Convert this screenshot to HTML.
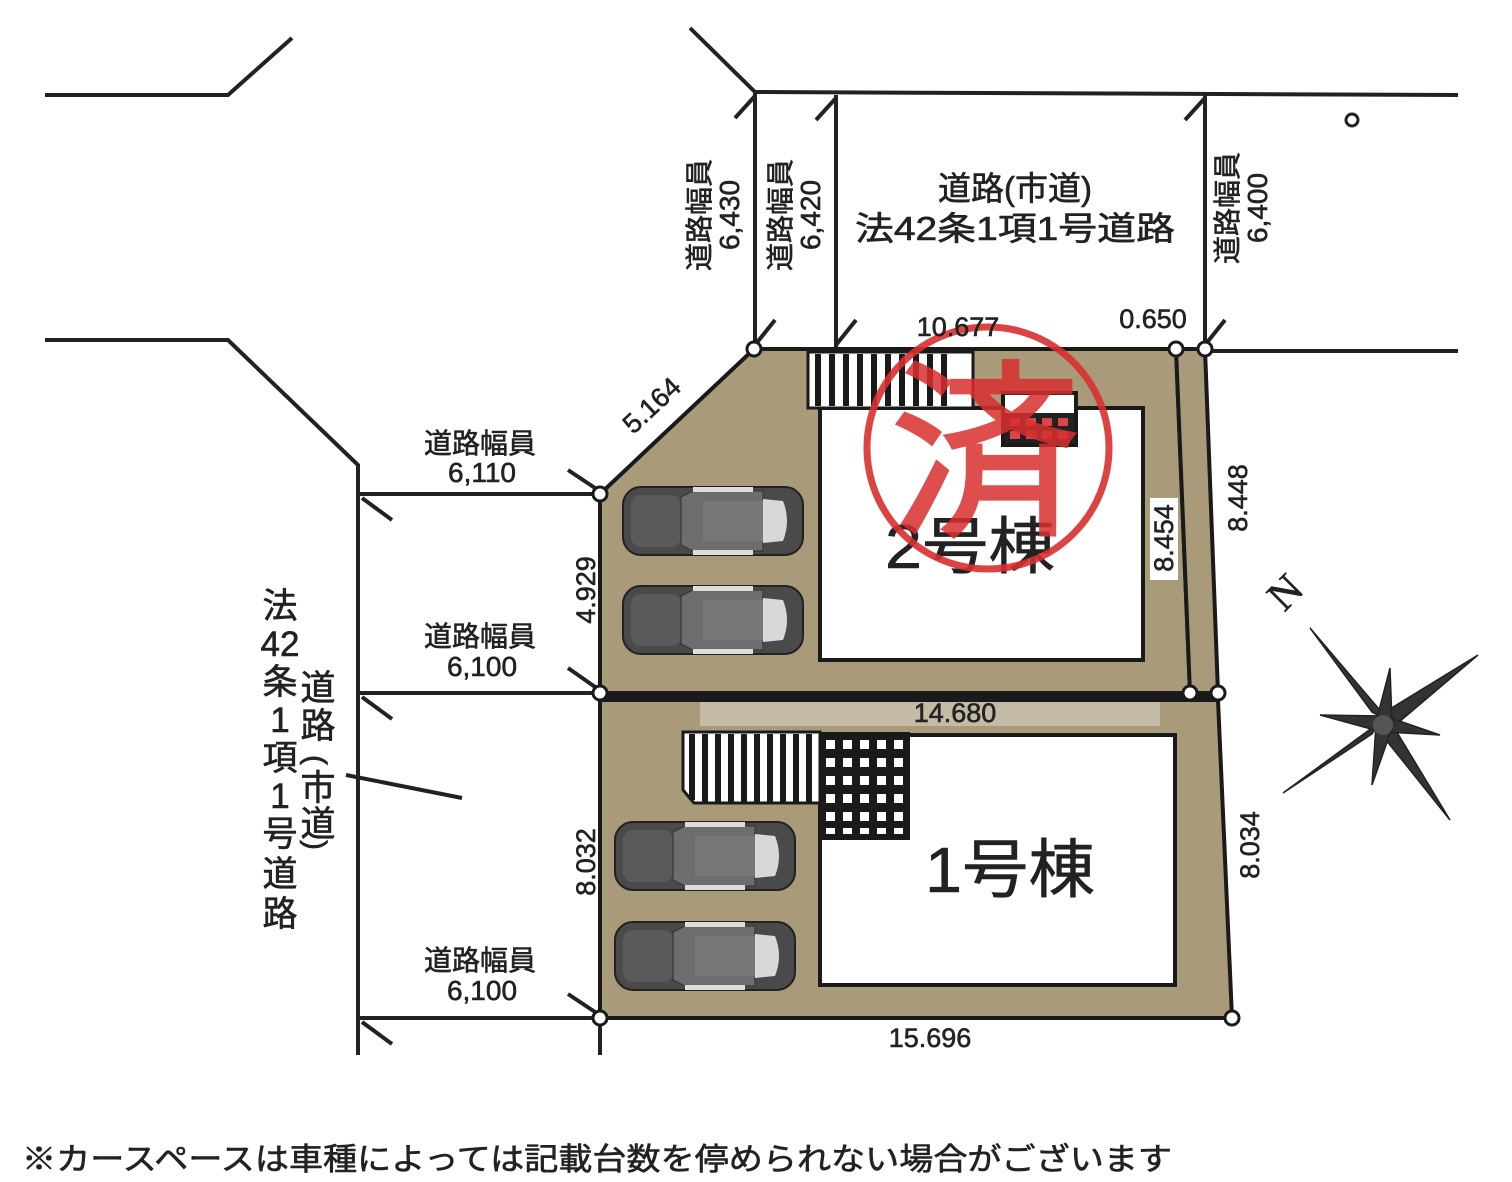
<!DOCTYPE html>
<html><head><meta charset="utf-8"><style>
html,body{margin:0;padding:0;background:#fff;}
svg{display:block;}
text{font-family:"Liberation Sans","Noto Sans CJK JP",sans-serif;fill:#222;stroke:#222;stroke-width:0.6;}
</style></head><body>
<svg width="1512" height="1182" viewBox="0 0 1512 1182" xmlns="http://www.w3.org/2000/svg">
<defs>
<g id="car">
<rect x="0" y="0" width="180" height="68" rx="18" fill="#4a4a4a" stroke="#222" stroke-width="2"/>
<rect x="8" y="8" width="50" height="52" rx="10" fill="#5a5a5a"/>
<path d="M58 10 L70 4 L140 4 L140 64 L70 64 L58 58 Z" fill="#6d6d6d" stroke="#333"/>
<rect x="80" y="14" width="60" height="40" fill="#777"/>
<path d="M140 12 L160 14 Q168 34 160 54 L140 56 Z" fill="#d8d8d8"/>
<rect x="70" y="0" width="60" height="5" fill="#ddd"/>
<rect x="70" y="63" width="60" height="5" fill="#ddd"/>
</g>
</defs>

<g stroke="#222" stroke-width="4" fill="none">
<polyline points="45,95 228,95 292,38"/>
<polyline points="690,28 755,92 1458,95"/>
<line x1="755" y1="92" x2="755" y2="349"/>
<line x1="836" y1="95" x2="836" y2="349"/>
<line x1="1205" y1="95" x2="1205" y2="349"/>
<line x1="1205" y1="351" x2="1458" y2="351"/>
<polyline points="45,340 228,340 358,465 358,1055"/>
<line x1="360" y1="494" x2="600" y2="494"/>
<line x1="360" y1="693" x2="600" y2="693"/>
<line x1="360" y1="1018" x2="600" y2="1018"/>
<line x1="600" y1="1018" x2="600" y2="1055"/>
<line x1="755" y1="96" x2="735" y2="118"/>
<line x1="755" y1="345" x2="775" y2="320"/>
<line x1="836" y1="98" x2="816" y2="120"/>
<line x1="836" y1="345" x2="856" y2="320"/>
<line x1="1205" y1="98" x2="1185" y2="120"/>
<line x1="1205" y1="345" x2="1225" y2="320"/>
<line x1="362" y1="498" x2="392" y2="520"/>
<line x1="362" y1="697" x2="392" y2="719"/>
<line x1="362" y1="1022" x2="392" y2="1044"/>
<line x1="598" y1="490" x2="568" y2="470"/>
<line x1="598" y1="689" x2="568" y2="668"/>
<line x1="598" y1="1014" x2="568" y2="994"/>
<line x1="346" y1="775" x2="462" y2="798"/>
</g>
<circle cx="1352" cy="120" r="6" fill="none" stroke="#222" stroke-width="3"/>

<g stroke="#1a1a1a" stroke-width="4" fill="#a99a7a">
<polygon points="754,349 1176,349 1190,693 600,693 600,494"/>
<polygon points="1176,349 1205,349 1218,693 1190,693"/>
<polygon points="600,700 1218,700 1232,1018 600,1018"/>
</g>
<line x1="600" y1="697" x2="1218" y2="697" stroke="#1a1a1a" stroke-width="5"/>
<rect x="700" y="702" width="460" height="24" fill="#c4bba6"/>

<rect x="820" y="408" width="323" height="252" fill="#fff" stroke="#1a1a1a" stroke-width="4"/>
<rect x="808" y="352" width="165" height="56" fill="#fff" stroke="#1a1a1a" stroke-width="3"/>
<g stroke="#1a1a1a" stroke-width="6">
<line x1="818" y1="354" x2="818" y2="406"/><line x1="832" y1="354" x2="832" y2="406"/><line x1="846" y1="354" x2="846" y2="406"/><line x1="860" y1="354" x2="860" y2="406"/><line x1="874" y1="354" x2="874" y2="406"/><line x1="888" y1="354" x2="888" y2="406"/><line x1="902" y1="354" x2="902" y2="406"/><line x1="916" y1="354" x2="916" y2="406"/><line x1="930" y1="354" x2="930" y2="406"/><line x1="944" y1="354" x2="944" y2="406"/>
</g>
<rect x="1003" y="393" width="73" height="52" fill="#fff" stroke="#1a1a1a" stroke-width="4"/>
<rect x="1005" y="413" width="69" height="30" fill="#222"/>
<g fill="#d44">
<rect x="1010" y="418" width="10" height="8"/><rect x="1026" y="418" width="10" height="8"/><rect x="1042" y="418" width="10" height="8"/><rect x="1058" y="418" width="10" height="8"/>
<rect x="1010" y="431" width="10" height="8"/><rect x="1026" y="431" width="10" height="8"/><rect x="1042" y="431" width="10" height="8"/><rect x="1058" y="431" width="10" height="8"/>
</g>

<rect x="820" y="735" width="355" height="250" fill="#fff" stroke="#1a1a1a" stroke-width="4"/>
<path d="M683 732 L820 732 L820 803 L694 803 L683 790 Z" fill="#fff" stroke="#1a1a1a" stroke-width="3"/>
<g stroke="#1a1a1a" stroke-width="6">
<line x1="692" y1="734" x2="692" y2="800"/><line x1="705" y1="734" x2="705" y2="802"/><line x1="718" y1="734" x2="718" y2="802"/><line x1="731" y1="734" x2="731" y2="802"/><line x1="744" y1="734" x2="744" y2="802"/><line x1="757" y1="734" x2="757" y2="802"/><line x1="770" y1="734" x2="770" y2="802"/><line x1="783" y1="734" x2="783" y2="802"/><line x1="796" y1="734" x2="796" y2="802"/><line x1="809" y1="734" x2="809" y2="802"/>
</g>
<rect x="820" y="732" width="90" height="108" fill="#1a1a1a"/>
<g fill="#fff">
<rect x="826" y="740" width="9" height="9"/><rect x="843" y="740" width="9" height="9"/><rect x="860" y="740" width="9" height="9"/><rect x="877" y="740" width="9" height="9"/><rect x="894" y="740" width="9" height="9"/>
<rect x="826" y="758" width="9" height="9"/><rect x="843" y="758" width="9" height="9"/><rect x="860" y="758" width="9" height="9"/><rect x="877" y="758" width="9" height="9"/><rect x="894" y="758" width="9" height="9"/>
<rect x="826" y="776" width="9" height="9"/><rect x="843" y="776" width="9" height="9"/><rect x="860" y="776" width="9" height="9"/><rect x="877" y="776" width="9" height="9"/><rect x="894" y="776" width="9" height="9"/>
<rect x="826" y="794" width="9" height="9"/><rect x="843" y="794" width="9" height="9"/><rect x="860" y="794" width="9" height="9"/><rect x="877" y="794" width="9" height="9"/><rect x="894" y="794" width="9" height="9"/>
<rect x="826" y="812" width="9" height="9"/><rect x="843" y="812" width="9" height="9"/><rect x="860" y="812" width="9" height="9"/><rect x="877" y="812" width="9" height="9"/><rect x="894" y="812" width="9" height="9"/>
<rect x="826" y="828" width="9" height="6"/><rect x="843" y="828" width="9" height="6"/><rect x="860" y="828" width="9" height="6"/><rect x="877" y="828" width="9" height="6"/><rect x="894" y="828" width="9" height="6"/>
</g>

<use href="#car" x="623" y="487"/>
<use href="#car" x="623" y="586"/>
<use href="#car" x="615" y="822"/>
<use href="#car" x="615" y="922"/>

<text x="970" y="568" font-size="62" text-anchor="middle" textLength="170" lengthAdjust="spacingAndGlyphs">2号棟</text>
<text x="1010" y="892" font-size="64" text-anchor="middle" textLength="170" lengthAdjust="spacingAndGlyphs">1号棟</text>

<circle cx="988" cy="448" r="121" fill="none" stroke="#d8302f" stroke-width="7" opacity="0.9"/>
<text x="985" y="520" font-size="190" text-anchor="middle" style="fill:#d8302f;stroke:#d8302f;stroke-width:3;font-family:'Noto Sans CJK JP',sans-serif" opacity="0.85">済</text>

<g fill="#fff" stroke="#1a1a1a" stroke-width="3">
<circle cx="754" cy="349" r="7"/><circle cx="1176" cy="349" r="7"/><circle cx="1205" cy="349" r="7"/>
<circle cx="600" cy="494" r="7"/><circle cx="600" cy="693" r="7"/><circle cx="1190" cy="693" r="7"/><circle cx="1218" cy="693" r="7"/>
<circle cx="600" cy="1018" r="7"/><circle cx="1232" cy="1018" r="7"/>
</g>

<g font-size="27">
<text x="958" y="336" text-anchor="middle">10.677</text>
<text x="1153" y="328" text-anchor="middle">0.650</text>
<text x="955" y="722" text-anchor="middle">14.680</text>
<text x="930" y="1047" text-anchor="middle">15.696</text>
<text transform="translate(658,412) rotate(-43)" text-anchor="middle">5.164</text>
<text transform="translate(595,590) rotate(-90)" text-anchor="middle">4.929</text>
<text transform="translate(595,862) rotate(-90)" text-anchor="middle">8.032</text>
<rect x="1150" y="498" width="28" height="82" fill="#fff" stroke="none"/>
<text transform="translate(1173,538) rotate(-90)" text-anchor="middle">8.454</text>
<text transform="translate(1247,498) rotate(-90)" text-anchor="middle">8.448</text>
<text transform="translate(1259,845) rotate(-90)" text-anchor="middle">8.034</text>
</g>

<g font-size="28" text-anchor="middle">
<text x="480" y="453">道路幅員</text><text x="482" y="482">6,110</text>
<text x="480" y="646">道路幅員</text><text x="482" y="676">6,100</text>
<text x="480" y="970">道路幅員</text><text x="482" y="1000">6,100</text>
<text transform="translate(709,215) rotate(-90)">道路幅員</text>
<text transform="translate(739,215) rotate(-90)">6,430</text>
<text transform="translate(790,215) rotate(-90)">道路幅員</text>
<text transform="translate(820,215) rotate(-90)">6,420</text>
<text transform="translate(1237,208) rotate(-90)">道路幅員</text>
<text transform="translate(1267,208) rotate(-90)">6,400</text>
</g>
<g font-size="33" text-anchor="middle">
<text x="1015" y="200">道路(市道)</text>
<text x="1015" y="240" textLength="320" lengthAdjust="spacingAndGlyphs">法42条1項1号道路</text>
</g>
<g font-size="35" text-anchor="middle">
<text x="280" y="618">法</text><text x="280" y="656">42</text><text x="280" y="694">条</text><text x="280" y="732">1</text><text x="280" y="770">項</text><text x="280" y="808">1</text><text x="280" y="846">号</text><text x="280" y="886">道</text><text x="280" y="926">路</text>
<text x="318" y="700">道</text><text x="318" y="738">路</text>
<text transform="translate(306,760) rotate(90)" font-size="30">(</text>
<text x="318" y="800">市</text><text x="318" y="836">道</text>
<text transform="translate(306,845) rotate(90)" font-size="30">)</text>
</g>

<text transform="translate(1295,602) rotate(-45)" font-size="42" text-anchor="middle" style="font-family:'Liberation Serif',serif">N</text>
<g fill="#333" stroke="#222" stroke-width="1.5">
<polygon points="1310,628 1372,712 1390,722"/>
<polygon points="1478,655 1385,712 1392,728"/>
<polygon points="1450,820 1378,730 1392,724"/>
<polygon points="1283,793 1380,722 1372,734"/>
<polygon points="1390,668 1376,722 1392,722"/>
<polygon points="1440,735 1385,716 1385,732"/>
<polygon points="1372,785 1376,725 1392,728"/>
<polygon points="1320,715 1382,716 1382,732"/>
</g>
<circle cx="1383" cy="725" r="10" fill="#555"/>

<text x="22" y="1170" font-size="31" textLength="1150" lengthAdjust="spacingAndGlyphs">※カースペースは車種によっては記載台数を停められない場合がございます</text>
</svg>
</body></html>
